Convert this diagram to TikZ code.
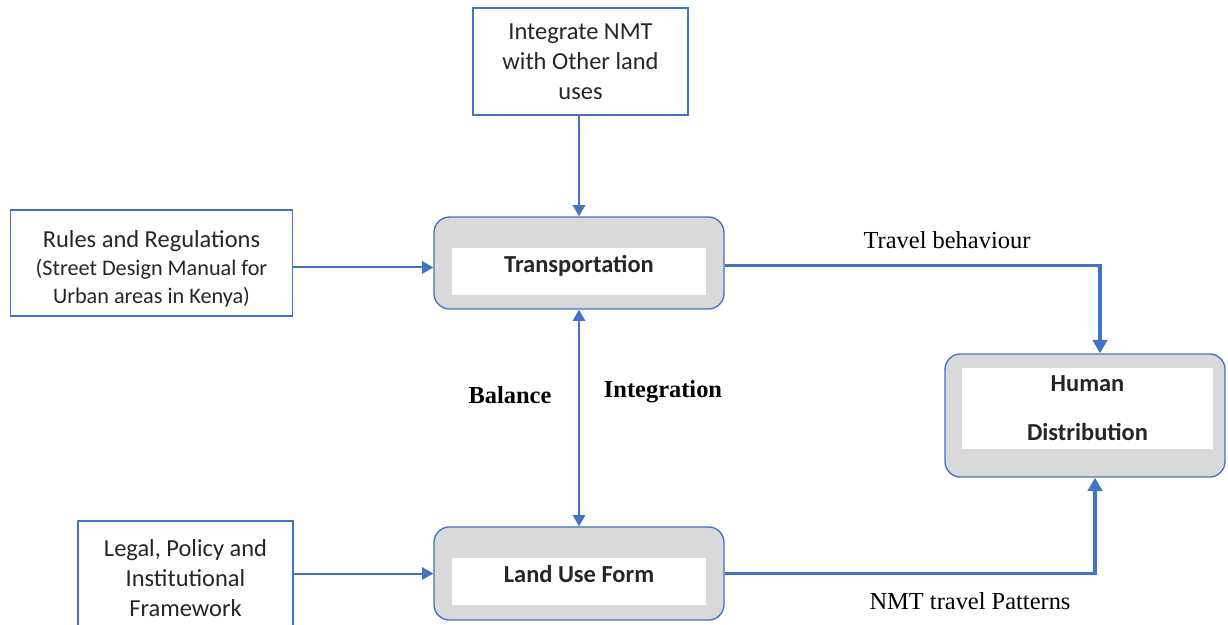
\documentclass[tikz,border=0pt]{standalone}
\usepackage{fontspec}
\setmainfont{Carlito}
\newfontfamily\timesf{Liberation Serif}
\usetikzlibrary{arrows.meta,positioning}
\definecolor{arrowblue}{HTML}{4472C4}
\definecolor{boxgray}{HTML}{D9D9D9}
\definecolor{txtgray}{HTML}{262626}
\tikzset{
  inbox/.style={draw=arrowblue, line width=0.5pt, fill=white, align=center, text=txtgray, font=\fontsize{11}{13.6}\selectfont},
  outbox/.style={draw=arrowblue, line width=0.6pt, fill=boxgray, rounded corners=7pt},
  whitebox/.style={fill=white, inner sep=0pt, align=center, font=\bfseries\fontsize{11}{13.6}\selectfont, text=txtgray},
  flow/.style={arrowblue, line width=0.9pt, -{Triangle[width=5.5pt,length=5pt]}},
  bigflow/.style={arrowblue, line width=1.4pt, -{Triangle[width=6.5pt,length=6pt]}},
  lbl/.style={font=\timesf\fontsize{11}{13}\selectfont, text=black}
}
\begin{document}
\begin{tikzpicture}[x=0.45pt,y=-0.45pt]
\useasboundingbox (0,0) rectangle (1228,624);
% outer boxes
\node[inbox, minimum width=96.75pt, minimum height=48.15pt] (nmt) at (580.5,61.5) {Integrate NMT\\with Other land\\uses};
\node[inbox, minimum width=126.5pt, minimum height=47.7pt] (rules) at (151.5,263)
  {\rule{0pt}{12.5pt}Rules and Regulations\\[-1pt]{\fontsize{10}{12.5}\selectfont(Street Design Manual for}\\[-1pt]{\fontsize{10}{12.5}\selectfont Urban areas in Kenya)}};
\node[inbox, minimum width=96.75pt, minimum height=51.3pt] (legal) at (185.5,578) {Legal, Policy and\\Institutional\\Framework};
% main boxes
\node[outbox, minimum width=130.5pt, minimum height=41.4pt] (tr) at (579,263) {};
\node[whitebox, minimum width=114.3pt, minimum height=21.15pt, text height=8pt, text depth=7.4pt] (tr-in) at (579,271.5) {Transportation};
\node[outbox, minimum width=130.5pt, minimum height=41.9pt] (lu) at (579,573.5) {};
\node[whitebox, minimum width=114.3pt, minimum height=21.15pt, text height=8pt, text depth=7.4pt] (lu-in) at (579,581.5) {Land Use Form};
\node[outbox, minimum width=126pt, minimum height=55.4pt] (hd) at (1085,415.5) {};
\node[whitebox, minimum width=113pt, minimum height=36.5pt] (hd-in) at (1087.5,408.5) {Human\\[8.5pt]Distribution};
% labels
\node[lbl, font=\timesf\bfseries\fontsize{11}{13}\selectfont] (bal) at (510,395) {Balance};
\node[lbl, font=\timesf\bfseries\fontsize{11}{13}\selectfont] (integ) at (663,392) {Integration};
\node[lbl] (travel) at (947,240) {Travel behaviour};
\node[lbl] (pattern) at (970,601) {NMT travel Patterns};
% connectors
\draw[flow] (tr.north |- nmt.south) -- (tr.north);
\draw[flow] ([yshift=-2pt]rules.east) -- ([yshift=-2pt]tr.west);
\draw[flow] (legal.east |- lu.west) -- (lu.west);
\draw[flow, {Triangle[width=5.5pt,length=5pt]}-{Triangle[width=5.5pt,length=5pt]}] (tr.south) -- (lu.north);
\draw[bigflow] ([yshift=-1pt]tr.east) -| ([xshift=6.75pt]hd.north);
\draw[bigflow] (lu.east) -| ([xshift=4.5pt]hd.south);
\end{tikzpicture}
\end{document}
